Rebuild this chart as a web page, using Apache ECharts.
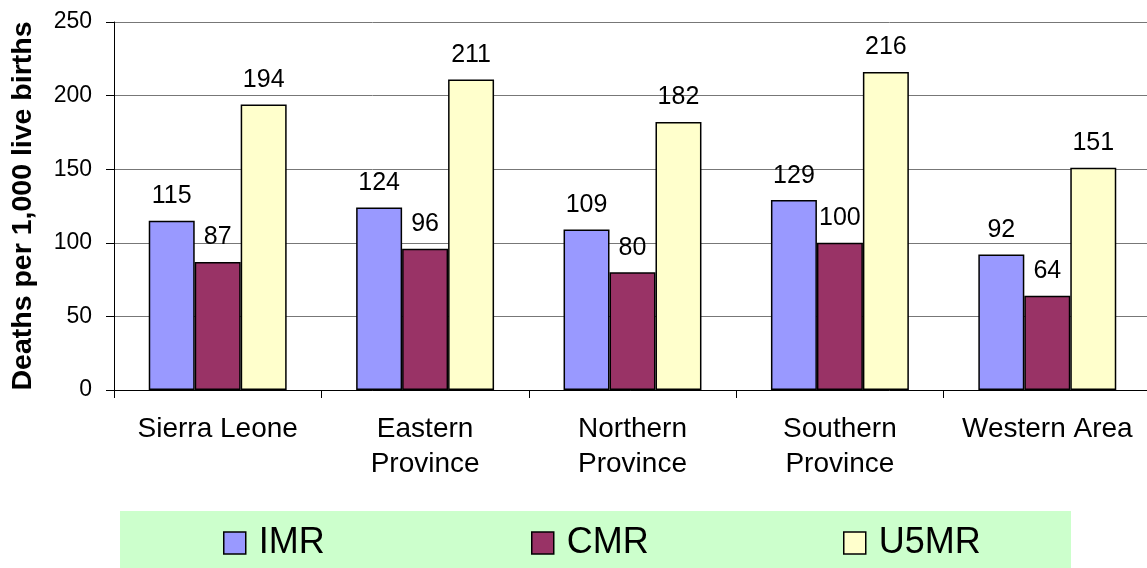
<!DOCTYPE html>
<html>
<head>
<meta charset="utf-8">
<script src="https://cdn.jsdelivr.net/npm/echarts@6/dist/echarts.min.js"></script>
<style>
  html, body { margin: 0; padding: 0; background: #ffffff; }
  #chart { width: 1147px; height: 568px; }
</style>
</head>
<body>
<div id="chart"></div>
<script>
// Mortality rates (deaths per 1,000 live births) by area
const categories = ['Sierra Leone', 'Eastern\nProvince', 'Northern\nProvince', 'Southern\nProvince', 'Western Area'];
const imr = [115, 124, 109, 129, 92];
const cmr = [87, 96, 80, 100, 64];
const u5mr = [194, 211, 182, 216, 151];
const seriesNames = ['IMR', 'CMR', 'U5MR'];
const seriesColors = ['#9999FF', '#993366', '#FFFFCC'];
const yTicks = { min: 0, max: 250, interval: 50 };

const FONT = '"Liberation Sans", Arial, sans-serif';
const chart = echarts.init(document.getElementById('chart'), null, { renderer: 'canvas' });

function barSeries(name, data, color) {
  return {
    name: name,
    type: 'bar',
    data: data,
    barGap: '0%',
    barCategoryGap: '33.5%',
    itemStyle: { color: color, borderColor: '#000000', borderWidth: 1.5 },
    label: {
      show: true,
      position: 'top',
      distance: 12,
      color: '#000000',
      fontFamily: FONT,
      fontSize: 25
    }
  };
}

// One legend entry per series, laid out across the green band
const legendLefts = [223, 531, 843];
const legends = seriesNames.map(function (name, i) {
  return {
    data: [name],
    left: legendLefts[i],
    top: 525,
    padding: 0,
    icon: 'rect',
    itemWidth: 22,
    itemHeight: 22,
    itemStyle: { borderColor: '#000000', borderWidth: 1.5 },
    textStyle: { fontFamily: FONT, fontSize: 36, color: '#000000', padding: [0, 0, 0, 8] }
  };
});

chart.setOption({
  animation: false,
  backgroundColor: '#ffffff',
  graphic: [{
    type: 'rect',
    left: 120,
    top: 511,
    shape: { width: 951, height: 57 },
    style: { fill: '#CCFFCC' },
    z: -1
  }],
  grid: { left: 114, top: 22, width: 1037, bottom: 178, outerBoundsMode: 'none', containLabel: false },
  legend: legends,
  xAxis: {
    type: 'category',
    data: categories,
    axisLine: { lineStyle: { color: '#000000', width: 1 } },
    axisTick: { show: true, length: 8, lineStyle: { color: '#000000' } },
    axisLabel: {
      interval: 0,
      margin: 22,
      color: '#000000',
      fontFamily: FONT,
      fontSize: 28,
      lineHeight: 35
    }
  },
  yAxis: {
    type: 'value',
    min: yTicks.min,
    max: yTicks.max,
    interval: yTicks.interval,
    name: 'Deaths per 1,000 live births',
    nameLocation: 'middle',
    nameGap: 76,
    nameTextStyle: { fontFamily: FONT, fontSize: 28.5, fontWeight: 'bold', color: '#000000' },
    axisLine: { show: true, lineStyle: { color: '#000000', width: 1 } },
    axisTick: { show: true, length: 8, lineStyle: { color: '#000000' } },
    axisLabel: { margin: 22, color: '#000000', fontFamily: FONT, fontSize: 23 },
    splitLine: { show: true, lineStyle: { color: '#777777', width: 1 } }
  },
  series: [
    barSeries(seriesNames[0], imr, seriesColors[0]),
    barSeries(seriesNames[1], cmr, seriesColors[1]),
    barSeries(seriesNames[2], u5mr, seriesColors[2])
  ]
});
</script>
</body>
</html>
